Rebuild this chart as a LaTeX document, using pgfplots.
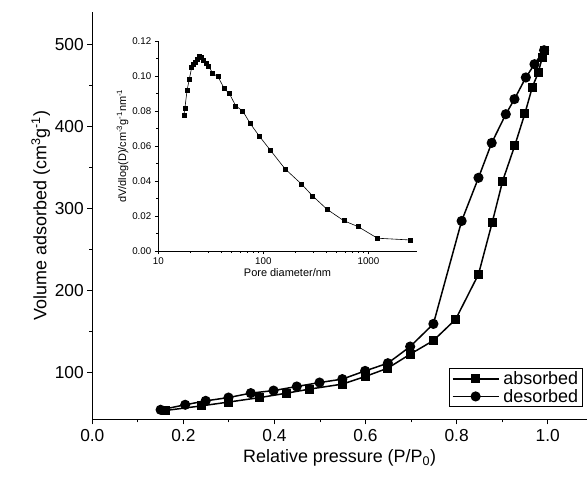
\documentclass[border=0pt]{standalone}
\usepackage{fontspec}
\setmainfont{Liberation Sans}
\usepackage{pgfplots}
\pgfplotsset{compat=1.18}

\newcommand\fbig{\fontsize{17.4}{20}\selectfont}
\newcommand\flab{\fontsize{18}{21}\selectfont}
\newcommand\fsml{\fontsize{9.8}{11}\selectfont}
\newcommand\fslab{\fontsize{11}{13}\selectfont}

\begin{document}
\begin{tikzpicture}
\path[use as bounding box] (-92.3bp,-59.7bp) rectangle (494.7bp,419.3bp);
% main isotherm
\begin{axis}[
  at={(0,0)}, anchor=south west,
  scale only axis, width=494.7bp, height=407.6bp,
  xmin=0, xmax=1.0863, ymin=43, ymax=540,
  axis x line=bottom, axis y line=left,
  axis line style={-, line width=1.1pt},
  every tick/.style={black, line width=1pt},
  tick align=outside,
  major tick length=5bp, minor tick length=3bp,
  xtick={0,0.2,0.4,0.6,0.8,1.0}, minor x tick num=1,
  ytick={100,200,300,400,500}, minor y tick num=1,
  /pgf/number format/assume math mode=true,
  xticklabel style={font=\fbig, yshift=-2bp, /pgf/number format/.cd, fixed, fixed zerofill, precision=1},
  yticklabel style={font=\fbig},
  xlabel={Relative pressure (P/P\textsubscript{0})},
  ylabel={Volume adsorbed (cm\textsuperscript{3}g\textsuperscript{-1})},
  xlabel style={font=\flab, yshift=-1bp},
  ylabel style={font=\flab, yshift=-2bp},
  legend style={at={(0.991,0.030)}, anchor=south east, draw=black, line width=0.8pt,
    font=\flab, inner xsep=2bp, inner ysep=1.5bp, row sep=0bp,
    nodes={inner ysep=1.5bp},
    /tikz/every odd column/.append style={column sep=2bp}},
  legend cell align=left,
  legend image code/.code={\draw[mark repeat=2,mark phase=2,#1] plot coordinates {(0bp,0bp)(23bp,0bp)(46bp,0bp)};},
]
\addplot[black, line width=1.5pt, mark=square*, mark size=3.7bp] coordinates {
  (0.160,53.7) (0.240,59.4) (0.299,64.0) (0.368,69.5) (0.427,74.9)
  (0.477,79.8) (0.549,85.9) (0.599,95.1) (0.649,105.4) (0.698,122.4)
  (0.749,139.0) (0.798,165.0) (0.848,219.8) (0.878,282.7) (0.901,333.5)
  (0.928,377.3) (0.950,416.0) (0.966,447.6) (0.979,465.4) (0.988,484.0)
  (0.992,493.0)
};
\addlegendentry{absorbed}
\addplot[black, line width=1.5pt, mark=*, mark size=4.3bp] coordinates {
  (0.150,54.6) (0.204,60.7) (0.249,65.5) (0.299,69.5) (0.348,74.9)
  (0.398,78.0) (0.449,83.0) (0.499,87.8) (0.549,92.0) (0.599,102.0)
  (0.649,111.4) (0.698,131.7) (0.749,159.3) (0.811,284.8) (0.848,337.5)
  (0.877,380.0) (0.908,415.0) (0.927,433.4) (0.952,459.8) (0.971,476.0)
  (0.992,493.0)
};
\addlegendentry{desorbed}
\end{axis}
% inset: pore size distribution
\begin{axis}[
  at={(66bp,168.3bp)}, anchor=south west,
  scale only axis, width=258.4bp, height=210bp,
  xmode=log, xmin=10, xmax=2880, ymin=0, ymax=0.12,
  axis x line=bottom, axis y line=left,
  axis line style={-, line width=0.8pt},
  every tick/.style={black, line width=0.7pt},
  tick align=outside,
  major tick length=3.5bp, minor tick length=2bp,
  xtick={10,100,1000}, xticklabels={10,100,1000},
  ytick={0,0.02,0.04,0.06,0.08,0.10,0.12}, minor y tick num=1,
  /pgf/number format/assume math mode=true,
  xticklabel style={font=\fsml},
  yticklabel style={font=\fsml, /pgf/number format/.cd, fixed, fixed zerofill, precision=2},
  xlabel={Pore diameter/nm},
  ylabel={dV/dlog(D)/cm\textsuperscript{-3}g\textsuperscript{-1}nm\textsuperscript{-1}},
  xlabel style={font=\fslab, yshift=3bp},
  ylabel style={font=\fslab, yshift=-3bp},
]
\addplot[black, line width=0.6pt, mark=square*, mark size=2bp] coordinates {
  (17.5,0.0775) (17.9,0.0815) (18.8,0.0920) (19.7,0.0980) (20.8,0.1050)
  (21.7,0.1067) (22.7,0.1080) (23.7,0.1095) (24.8,0.1110) (25.9,0.1107)
  (27.1,0.1090) (28.5,0.1074) (30.2,0.1055) (33.0,0.1015) (37.0,0.0996)
  (42.3,0.0930) (47.5,0.0899) (54.6,0.0829) (63.6,0.0800) (75.2,0.0727)
  (92.4,0.0653) (117.6,0.0573) (161,0.0469) (230,0.0383) (295,0.0314)
  (404,0.0238) (583,0.0173) (798,0.0139) (1219,0.0073) (2494,0.0063)
};
\end{axis}
\end{tikzpicture}
\end{document}
